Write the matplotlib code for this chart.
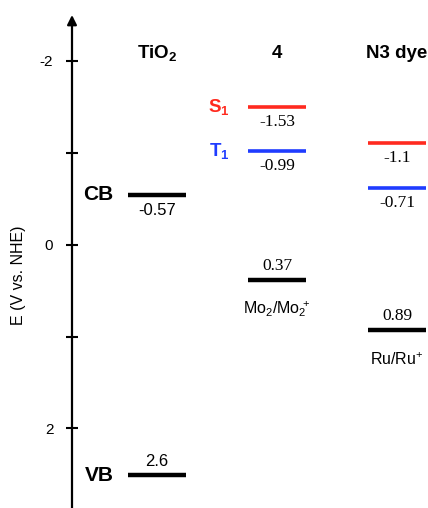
import matplotlib
matplotlib.use("Agg")
import matplotlib.pyplot as plt

plt.rcParams['font.family'] = ['Liberation Sans', 'DejaVu Sans']
plt.rcParams['mathtext.fontset'] = 'custom'
plt.rcParams['mathtext.rm'] = 'Liberation Sans'
plt.rcParams['mathtext.it'] = 'Liberation Sans:italic'
plt.rcParams['mathtext.bf'] = 'Liberation Sans:bold'

# ---- data ----
columns = [r'TiO$_\mathbf{2}$', '4', 'N3 dye']
col_x = [1, 2, 3]

# energy levels (position as drawn, label text, column index, colour)
level_pos = [-0.54, 2.51, -1.50, -1.02, 0.385, -1.11, -0.62, 0.93]
level_text = ['-0.57', '2.6', '-1.53', '-0.99', '0.37', '-1.1', '-0.71', '0.89']
level_col = [0, 0, 1, 1, 1, 2, 2, 2]
level_color = ['black', 'black', '#ff2a1f', '#1f3cff', 'black', '#ff2a1f', '#1f3cff', 'black']
level_side = ['below', 'above', 'below', 'below', 'above', 'below', 'below', 'above']
level_serif = [False, False, True, True, True, True, True, True]

band_names = ['CB', 'VB']
band_pos = [-0.54, 2.51]

state_names = [r'S$_\mathbf{1}$', r'T$_\mathbf{1}$']
state_pos = [-1.50, -1.02]
state_colors = ['#ff2a1f', '#1f3cff']

couple_names = [r'Mo$_2$/Mo$_2$$^{\!\!\!+}$', r'Ru/Ru$^{\!+}$']
couple_pos = [0.385, 0.93]
couple_col = [1, 2]

yticks_major = [-2, 0, 2]
yticks_minor = [-1, 1]

# ---- figure ----
W, H = 428, 508
fig = plt.figure(figsize=(W / 100, H / 100), dpi=100)
ax = fig.add_axes([72 / W, 0, 1 - 72 / W, 1 - 15 / H])
ax.set_xlim(0.292, 3.258)
ax.set_ylim(2.865, -2.498)

for s in ['top', 'right', 'bottom', 'left']:
    ax.spines[s].set_visible(False)
ax.set_xticks([])
ax.set_yticks(yticks_major)
ax.set_yticks(yticks_minor, minor=True)
ax.set_yticklabels([str(t) for t in yticks_major])
ax.tick_params(axis='y', which='both', direction='inout', length=9, width=1.5,
               labelsize=11, pad=9, color='black')

# axis line with arrow
ax.annotate('', xy=(0, 1.0), xytext=(0, 0), xycoords='axes fraction',
            arrowprops=dict(arrowstyle='-|>', color='black', lw=1.6,
                            mutation_scale=14, shrinkA=0, shrinkB=0),
            annotation_clip=False)

hw = 0.245
for pos, txt, ci, colr, side, serif in zip(level_pos, level_text, level_col,
                                           level_color, level_side, level_serif):
    x0 = col_x[ci]
    lw = 3.2 if colr == 'black' else 2.6
    ax.plot([x0 - hw, x0 + hw], [pos, pos], color=colr, lw=lw,
            solid_capstyle='butt')
    fam = ['Liberation Serif', 'DejaVu Serif'] if serif else ['Liberation Sans']
    off = -11 if side == 'below' else 10
    ax.annotate(txt, xy=(x0, pos), xytext=(0, off), textcoords='offset points',
                ha='center', va='center', fontsize=12.5 if serif else 12,
                family=fam, color='black')

for x0, name in zip(col_x, columns):
    ax.text(x0, -2.03, name, ha='center', va='baseline', fontsize=13.5,
            fontweight='bold')

for name, pos in zip(band_names, band_pos):
    ax.annotate(name, xy=(col_x[0] - hw, pos), xytext=(-10, 0),
                textcoords='offset points', ha='right', va='center',
                fontsize=15, fontweight='bold')

for name, pos, c in zip(state_names, state_pos, state_colors):
    ax.annotate(name, xy=(col_x[1] - hw, pos), xytext=(-13, 0),
                textcoords='offset points', ha='right', va='center',
                fontsize=13.5, fontweight='bold', color=c)

for name, pos, ci in zip(couple_names, couple_pos, couple_col):
    ax.annotate(name, xy=(col_x[ci], pos), xytext=(0, -21),
                textcoords='offset points', ha='center', va='center',
                fontsize=11.5)

fig.text(19 / W, 1 - 275 / H, 'E (V vs. NHE)', rotation=90, ha='center',
         va='center', fontsize=11.5)

fig.savefig('out.png', dpi=100)
